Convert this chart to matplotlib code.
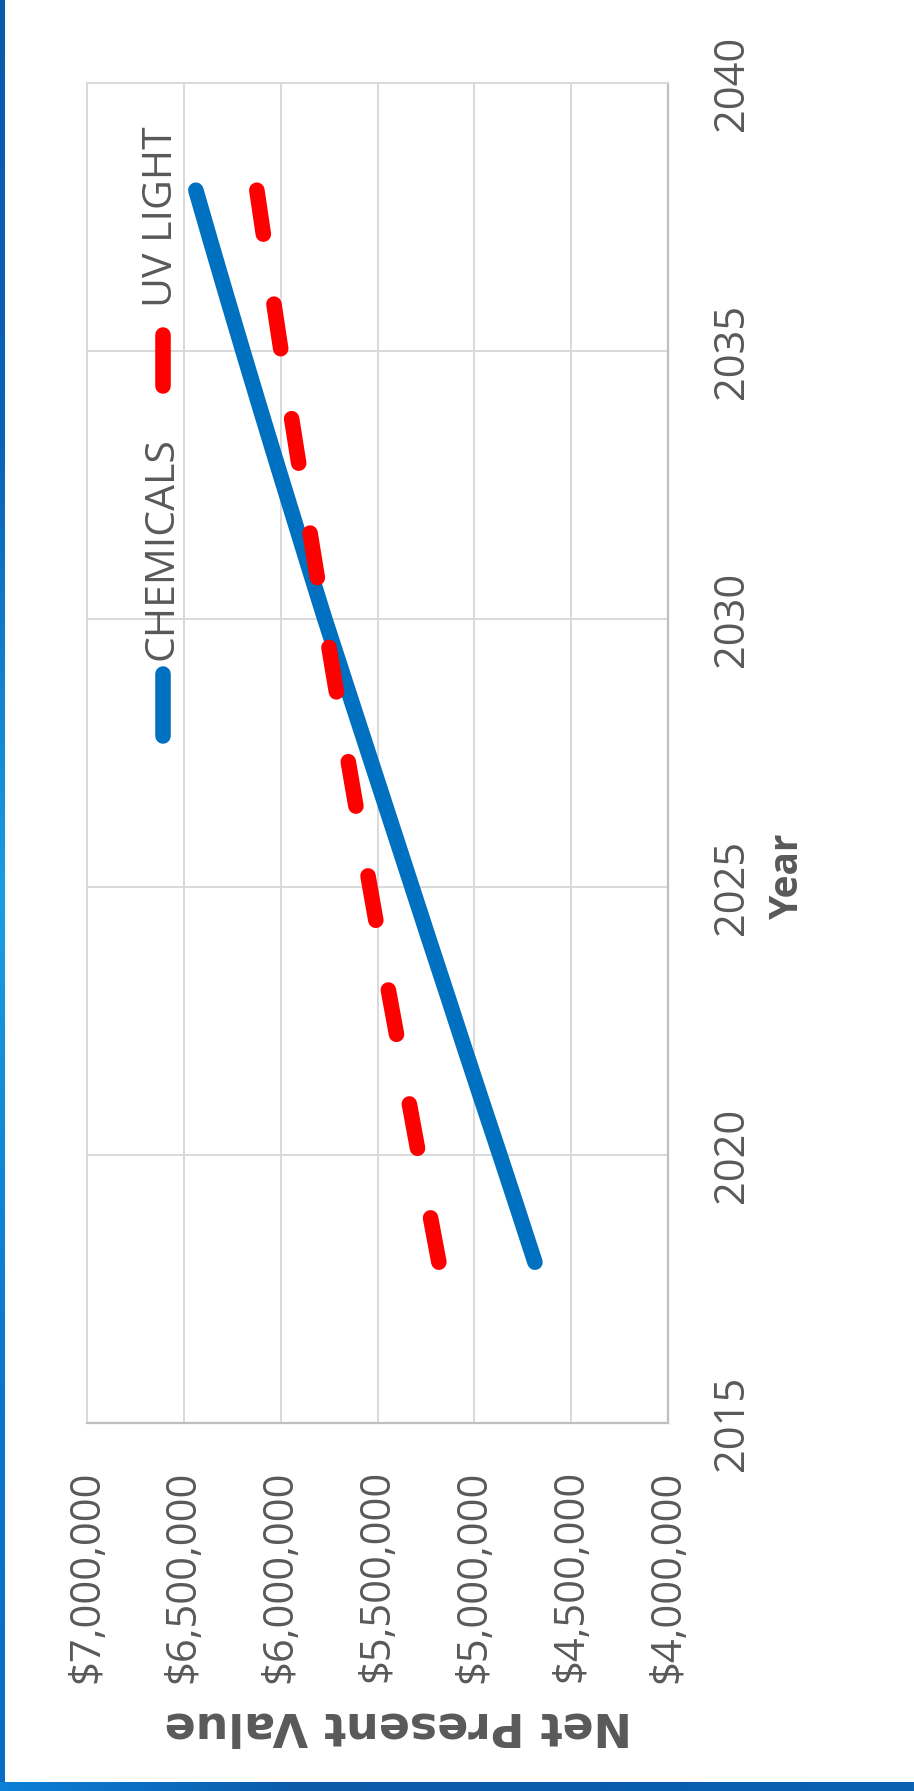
import matplotlib
matplotlib.use("Agg")
import matplotlib.pyplot as plt
import numpy as np
from matplotlib.colors import LinearSegmentedColormap

# ---- data ----
years = [2018, 2019, 2020, 2021, 2022, 2023, 2024, 2025, 2026, 2027, 2028,
         2029, 2030, 2031, 2032, 2033, 2034, 2035, 2036, 2037, 2038]
chemicals = [4687000, 4777000, 4868000, 4960000, 5051000, 5141000, 5232000,
             5322000, 5412000, 5502000, 5592000, 5682000, 5772000, 5858000,
             5943000, 6028000, 6112000, 6195000, 6277000, 6358000, 6438000]
uv_light = [5183000, 5235000, 5287000, 5338000, 5389000, 5440000, 5490000,
            5539000, 5587000, 5635000, 5682000, 5729000, 5775000, 5821000,
            5866000, 5911000, 5955000, 5998000, 6040000, 6082000, 6123000]
series_names = ["CHEMICALS", "UV LIGHT"]
npv_ticks = [4000000, 4500000, 5000000, 5500000, 6000000, 6500000, 7000000]
year_ticks = [2015, 2020, 2025, 2030, 2035, 2040]
x_title = "Year"
y_title = "Net Present Value"

TXT = "#595959"
BLUE = "#0070C0"
RED = "#FF0000"
W, H = 914, 1791

fig = plt.figure(figsize=(W / 100, H / 100), dpi=100)
fig.patch.set_facecolor("white")

ax = fig.add_axes([87 / W, (H - 1423) / H, 581 / W, 1340 / H])
ax.set_xlim(7000000, 4000000)
ax.set_ylim(2015, 2040)

lw = 11.2
ax.plot(chemicals, years, color=BLUE, lw=lw, solid_capstyle="round",
        solid_joinstyle="round", zorder=3)
ax.plot(uv_light, years, color=RED, lw=lw, linestyle=(0, (2.9, 4.55)),
        dash_capstyle="round", zorder=3)

ax.set_xticks(npv_ticks)
ax.set_xticklabels(["${:,.0f}".format(v) for v in npv_ticks])
ax.set_yticks(year_ticks)
ax.set_yticklabels([str(y) for y in year_ticks])
ax.yaxis.tick_right()
ax.tick_params(axis="both", length=0, colors=TXT)
ax.tick_params(axis="x", pad=34, labelsize=30, labelrotation=90)
ax.tick_params(axis="y", pad=31, labelsize=30, labelrotation=90)
for t in ax.get_xticklabels() + ax.get_yticklabels():
    t.set_fontfamily("Open Sans")
for t in ax.get_yticklabels():
    t.set_verticalalignment("center")

ax.grid(True, color="#d9d9d9", lw=1.4, zorder=0)
ax.set_axisbelow(True)
for side in ["left", "top"]:
    ax.spines[side].set_color("#d9d9d9")
    ax.spines[side].set_linewidth(1.4)
for side in ["right", "bottom"]:
    ax.spines[side].set_color("#bfbfbf")
    ax.spines[side].set_linewidth(1.6)

# legend (rotated layout)
ax.plot([0.1308, 0.1308], [0.5127, 0.559], transform=ax.transAxes, color=BLUE,
        lw=lw, solid_capstyle="round", clip_on=False)
ax.plot([0.1308, 0.1308], [0.774, 0.812], transform=ax.transAxes, color=RED,
        lw=lw, solid_capstyle="round", clip_on=False)
ax.text(0.129, 0.6526, series_names[0], transform=ax.transAxes, rotation=90,
        ha="center", va="center", fontsize=29.5, color=TXT, family="Open Sans")
ax.text(0.129, 0.900, series_names[1], transform=ax.transAxes, rotation=90,
        ha="center", va="center", fontsize=29.5, color=TXT, family="Open Sans")

# axis titles
fig.text(787 / W, 1 - 876 / H, x_title, rotation=90, ha="center", va="center",
         fontsize=28, fontweight="bold", color=TXT, family="Open Sans")
fig.text(398 / W, 1 - 1713 / H, y_title, rotation=180, rotation_mode="anchor",
         ha="center", va="baseline", fontsize=33, fontweight="bold", color=TXT,
         family="DejaVu Sans")

# blue frame strips
cm_left = LinearSegmentedColormap.from_list(
    "l", ["#0a5aab", "#0b62b8", "#1a9ee3", "#0c78cf", "#0a6cc4"])
axl = fig.add_axes([0, 0, 5 / W, 1])
axl.imshow(np.linspace(0, 1, 256).reshape(-1, 1), aspect="auto", cmap=cm_left)
axl.axis("off")
cm_bot = LinearSegmentedColormap.from_list(
    "b", ["#0b7fd6", "#0b5aa8", "#0b5cad", "#0a62b5"])
axb = fig.add_axes([0, 0, 1, 9 / H])
axb.imshow(np.linspace(0, 1, 256).reshape(1, -1), aspect="auto", cmap=cm_bot)
axb.axis("off")

fig.savefig("out.png", dpi=100, facecolor="white")
